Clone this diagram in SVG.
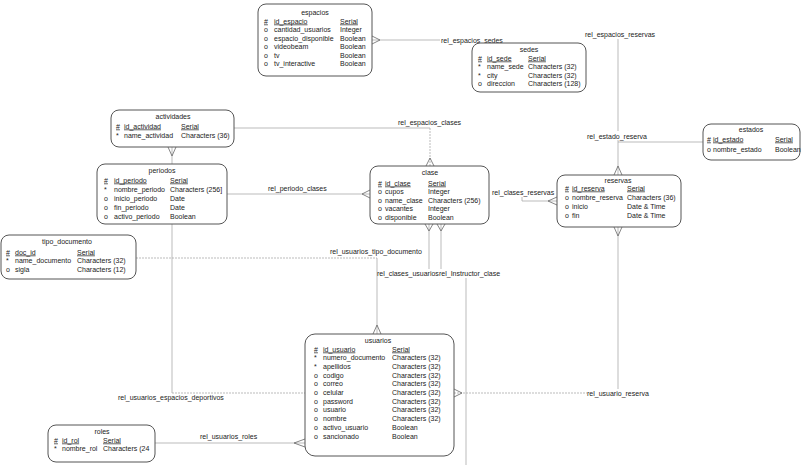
<svg xmlns="http://www.w3.org/2000/svg" width="802" height="465" viewBox="0 0 802 465">
<style>
text{font-family:"Liberation Sans",Arial,sans-serif;font-size:7px;fill:#222}
.t{text-anchor:middle}
.u{text-decoration:underline}
.box{fill:#fff;stroke:#555;stroke-width:1}
.ln{fill:none;stroke:#aaa;stroke-width:0.8}
.dl{fill:none;stroke:#aaa;stroke-width:0.8;stroke-dasharray:2 1}
.cf{fill:none;stroke:#666;stroke-width:0.8}
</style>
<rect width="802" height="465" fill="#fff"/>
<g id="connectors">
  <!-- espacios - sedes -->
  <path class="ln" d="M372,40 H440"/>
  <path class="cf" d="M372,36 L380,40 L372,44"/>
  <text x="441" y="42.5">rel_espacios_sedes</text>
  <!-- espacios - reservas -->
  <text x="585" y="37">rel_espacios_reservas</text>
  <path class="ln" d="M618,39 V131 M618,140 V175"/>
  <path class="cf" d="M614,175 L618,166 L622,175"/>
  <!-- estado - reserva -->
  <text x="587" y="138.5">rel_estado_reserva</text>
  <path class="ln" d="M618,142 H703"/>
  <!-- espacios clases -->
  <path class="ln" d="M234,128 H430"/>
  <path class="dl" d="M430,128 V166"/>
  <path class="cf" d="M426,166 L430,158 L434,166"/>
  <text x="398" y="124.5">rel_espacios_clases</text>
  <!-- actividades vertical / usuarios espacios deportivos -->
  <path class="ln" d="M172,147 V393"/>
  <path class="dl" d="M172,393 H305"/>
  <path class="cf" d="M168,147 L172,156 L176,147"/>
  <text x="118" y="399.5">rel_usuarios_espacios_deportivos</text>
  <!-- periodo clases -->
  <path class="ln" d="M227,194 H370"/>
  <path class="cf" d="M370,190 L362,194 L370,198"/>
  <text x="268" y="190.5">rel_periodo_clases</text>
  <!-- clases reservas -->
  <text x="492" y="194.5">rel_clases_reservas</text>
  <path class="ln" d="M522,197 V201 H557"/>
  <path class="cf" d="M557,197 L548,201 L557,205"/>
  <!-- usuarios tipo documento -->
  <path class="dl" d="M136,258 H377"/>
  <path class="ln" d="M377,258 V334"/>
  <path class="cf" d="M373,334 L377,325 L381,334"/>
  <text x="330" y="253.5">rel_usuarios_tipo_documento</text>
  <!-- clases usuarios / instructor -->
  <path class="ln" d="M429,224 V269 M441,224 V269 M466,278 V465"/>
  <path class="cf" d="M425,224 L429,231 L433,224 M437,224 L441,231 L445,224"/>
  <text x="377" y="275.5">rel_clases_usuarios</text>
  <text x="439" y="275.5">rel_Instructor_clase</text>
  <!-- usuario reserva -->
  <path class="dl" d="M454,393 H587"/>
  <path class="ln" d="M618,227 V389"/>
  <path class="cf" d="M454,389 L462,393 L454,397 M614,227 L618,236 L622,227"/>
  <text x="587" y="395.5">rel_usuario_reserva</text>
  <!-- usuarios roles -->
  <path class="ln" d="M155,443 H305"/>
  <path class="cf" d="M305,439 L294,443 L305,447"/>
  <text x="200" y="439">rel_usuarios_roles</text>
</g>
<g id="espacios">
  <rect class="box" x="258" y="4" width="114" height="72" rx="8"/>
  <text class="t" x="315" y="14.5">espacios</text>
  <text class="u" x="264" y="23.5">#</text><text class="u" x="274" y="23.5">id_espacio</text><text class="u" x="340" y="23.5">Serial</text>
  <text x="264" y="32">o</text><text x="274" y="32">cantidad_usuarios</text><text x="340" y="32">Integer</text>
  <text x="264" y="40.5">o</text><text x="274" y="40.5">espacio_disponible</text><text x="340" y="40.5">Boolean</text>
  <text x="264" y="49">o</text><text x="274" y="49">videobeam</text><text x="340" y="49">Boolean</text>
  <text x="264" y="57.5">o</text><text x="274" y="57.5">tv</text><text x="340" y="57.5">Boolean</text>
  <text x="264" y="66">o</text><text x="274" y="66">tv_interactive</text><text x="340" y="66">Boolean</text>
</g>
<g id="sedes">
  <rect class="box" x="472" y="43" width="114" height="49" rx="8"/>
  <text class="t" x="529" y="51.5">sedes</text>
  <text class="u" x="478" y="60.5">#</text><text class="u" x="487" y="60.5">id_sede</text><text class="u" x="528" y="60.5">Serial</text>
  <text x="478" y="69">*</text><text x="487" y="69">name_sede</text><text x="528" y="69">Characters (32)</text>
  <text x="478" y="77.5">*</text><text x="487" y="77.5">city</text><text x="528" y="77.5">Characters (32)</text>
  <text x="478" y="86">o</text><text x="487" y="86">direccion</text><text x="528" y="86">Characters (128)</text>
</g>
<g id="actividades">
  <rect class="box" x="111" y="110" width="123" height="37" rx="8"/>
  <text class="t" x="173" y="118.5">actividades</text>
  <text class="u" x="116" y="128.5">#</text><text class="u" x="124" y="128.5">id_actividad</text><text class="u" x="181" y="128.5">Serial</text>
  <text x="116" y="137.5">*</text><text x="124" y="137.5">name_actividad</text><text x="181" y="137.5">Characters (36)</text>
</g>
<g id="periodos">
  <rect class="box" x="97" y="164" width="130" height="60" rx="8"/>
  <text class="t" x="162" y="172.5">periodos</text>
  <text class="u" x="104" y="182.5">#</text><text class="u" x="114" y="182.5">id_periodo</text><text class="u" x="170" y="182.5">Serial</text>
  <text x="104" y="191.5">*</text><text x="114" y="191.5">nombre_periodo</text><text x="170" y="191.5">Characters (256]</text>
  <text x="104" y="200.5">o</text><text x="114" y="200.5">inicio_periodo</text><text x="170" y="200.5">Date</text>
  <text x="104" y="209.5">o</text><text x="114" y="209.5">fin_periodo</text><text x="170" y="209.5">Date</text>
  <text x="104" y="218.5">o</text><text x="114" y="218.5">activo_periodo</text><text x="170" y="218.5">Boolean</text>
</g>
<g id="clase">
  <rect class="box" x="370" y="166" width="119" height="58" rx="8"/>
  <text class="t" x="430" y="174.5">clase</text>
  <text class="u" x="378" y="185.5">#</text><text class="u" x="385" y="185.5">id_clase</text><text class="u" x="428" y="185.5">Serial</text>
  <text x="378" y="194">o</text><text x="385" y="194">cupos</text><text x="428" y="194">Integer</text>
  <text x="378" y="202.5">o</text><text x="385" y="202.5">name_clase</text><text x="428" y="202.5">Characters (256)</text>
  <text x="378" y="211">o</text><text x="385" y="211">vacantes</text><text x="428" y="211">Integer</text>
  <text x="378" y="219.5">o</text><text x="385" y="219.5">disponible</text><text x="428" y="219.5">Boolean</text>
</g>
<g id="reservas">
  <rect class="box" x="557" y="175" width="124" height="52" rx="8"/>
  <text class="t" x="618" y="182.5">reservas</text>
  <text class="u" x="565" y="190.5">#</text><text class="u" x="572" y="190.5">id_reserva</text><text class="u" x="627" y="190.5">Serial</text>
  <text x="565" y="199.5">o</text><text x="572" y="199.5">nombre_reserva</text><text x="627" y="199.5">Characters (36)</text>
  <text x="565" y="208.5">o</text><text x="572" y="208.5">inicio</text><text x="627" y="208.5">Date &amp; Time</text>
  <text x="565" y="217.5">o</text><text x="572" y="217.5">fin</text><text x="627" y="217.5">Date &amp; Time</text>
</g>
<g id="estados">
  <rect class="box" x="703" y="124" width="97" height="36" rx="8"/>
  <text class="t" x="751" y="131.5">estados</text>
  <text class="u" x="707" y="141.5">#</text><text class="u" x="713" y="141.5">id_estado</text><text class="u" x="775" y="141.5">Serial</text>
  <text x="707" y="151.5">o</text><text x="713" y="151.5">nombre_estado</text><text x="775" y="151.5">Boolean</text>
</g>
<g id="tipo_documento">
  <rect class="box" x="1" y="235" width="135" height="44" rx="8"/>
  <text class="t" x="67" y="243.5">tipo_documento</text>
  <text class="u" x="6" y="254.5">#</text><text class="u" x="15" y="254.5">doc_id</text><text class="u" x="77" y="254.5">Serial</text>
  <text x="6" y="263">*</text><text x="15" y="263">name_documento</text><text x="77" y="263">Characters (32)</text>
  <text x="6" y="271.5">o</text><text x="15" y="271.5">sigla</text><text x="77" y="271.5">Characters (12)</text>
</g>
<g id="usuarios">
  <rect class="box" x="305" y="334" width="149" height="122" rx="10"/>
  <text class="t" x="378" y="342.5">usuarios</text>
  <text class="u" x="314" y="351.5">#</text><text class="u" x="323" y="351.5">id_usuario</text><text class="u" x="392" y="351.5">Serial</text>
  <text x="314" y="360.2">*</text><text x="323" y="360.2">numero_documento</text><text x="392" y="360.2">Characters (32)</text>
  <text x="314" y="368.9">*</text><text x="323" y="368.9">apellidos</text><text x="392" y="368.9">Characters (32)</text>
  <text x="314" y="377.6">o</text><text x="323" y="377.6">codigo</text><text x="392" y="377.6">Characters (32)</text>
  <text x="314" y="386.3">o</text><text x="323" y="386.3">correo</text><text x="392" y="386.3">Characters (32)</text>
  <text x="314" y="395">o</text><text x="323" y="395">celular</text><text x="392" y="395">Characters (32)</text>
  <text x="314" y="403.7">o</text><text x="323" y="403.7">password</text><text x="392" y="403.7">Characters (32)</text>
  <text x="314" y="412.4">o</text><text x="323" y="412.4">usuario</text><text x="392" y="412.4">Characters (32)</text>
  <text x="314" y="421.1">o</text><text x="323" y="421.1">nombre</text><text x="392" y="421.1">Characters (32)</text>
  <text x="314" y="429.8">o</text><text x="323" y="429.8">activo_usuario</text><text x="392" y="429.8">Boolean</text>
  <text x="314" y="438.5">o</text><text x="323" y="438.5">sancionado</text><text x="392" y="438.5">Boolean</text>
</g>
<g id="roles">
  <rect class="box" x="48" y="425" width="107" height="37" rx="8"/>
  <text class="t" x="102" y="433.5">roles</text>
  <text class="u" x="54" y="442.5">#</text><text class="u" x="62" y="442.5">id_rol</text><text class="u" x="103" y="442.5">Serial</text>
  <text x="54" y="451">*</text><text x="62" y="451">nombre_rol</text><text x="103" y="451">Characters (24</text>
</g>
</svg>
